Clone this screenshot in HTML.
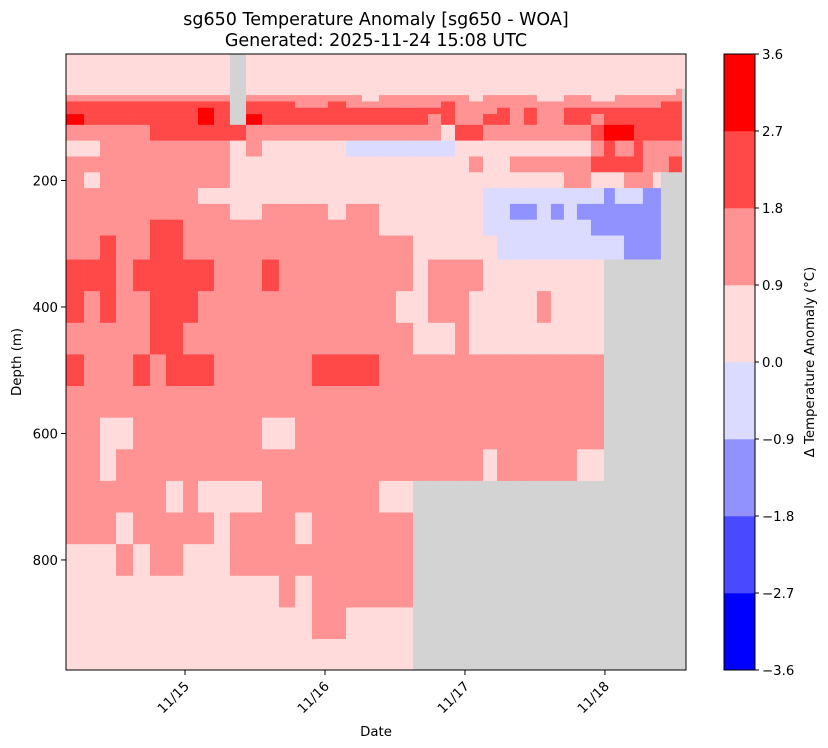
<!DOCTYPE html>
<html><head><meta charset="utf-8"><style>
html,body{margin:0;padding:0;background:#fff;}
svg{display:block;font-family:"DejaVu Sans","Liberation Sans",sans-serif;}
</style></head><body>
<svg id="chart" width="828" height="748" viewBox="0 0 828 748" xmlns="http://www.w3.org/2000/svg">
<text x="376" y="25" text-anchor="middle" font-size="17.5">sg650 Temperature Anomaly [sg650 - WOA]</text>
<text x="376" y="46" text-anchor="middle" font-size="17.5">Generated: 2025-11-24 15:08 UTC</text>
<g id="cells"></g>
<rect x="66" y="54" width="620" height="616" fill="none" stroke="#000" stroke-width="1"/>
<g id="axes"></g>
<text x="376" y="736" text-anchor="middle" font-size="13.3">Date</text>
<text x="21" y="362" text-anchor="middle" font-size="13.3" transform="rotate(-90 21 362)">Depth (m)</text>
<g id="cbar"></g>
<text x="814" y="362" text-anchor="middle" font-size="13.3" transform="rotate(-90 814 362)">Δ Temperature Anomaly (°C)</text>
</svg>
<script>
// Column edges: days since 11/15 00:00
const colEdges = [-0.850,-0.721,-0.607,-0.493,-0.371,-0.250,-0.136,-0.014,0.093,0.207,0.321,0.436,0.550,0.671,0.786,0.907,1.021,1.150,1.264,1.386,1.507,1.629,1.736,1.829,1.929,2.029,2.129,2.229,2.321,2.421,2.514,2.614,2.707,2.800,2.900,2.993,3.071,3.136,3.207,3.271,3.343,3.400,3.457,3.507,3.550,3.579];
// Depth bin edges (m)
const depthEdges = [0,55,65,75,85,95,112,137,162,187,212,237,262,287,325,375,425,475,525,575,625,675,725,775,825,875,925,975];
// Anomaly level per depth row, run-length coded "level:count" (0..7 = bins of 0.9 from -3.6, '.' = no data)
const rows = [
"4:10 .:1 4:34",
"4:10 .:1 4:32 5:1 .:1",
"5:10 .:1 5:7 4:1 5:6 4:1 5:4 4:2 5:2 4:2 5:8 .:1",
"6:10 .:1 6:3 5:2 6:1 5:6 6:1 5:17 6:3 .:1",
"6:8 7:1 6:1 .:1 6:13 5:3 6:1 5:1 6:1 5:2 6:12 .:1",
"7:1 6:7 7:1 6:1 .:1 7:1 6:10 5:1 6:1 5:2 6:2 5:1 6:1 5:2 6:2 5:1 6:9 .:1",
"5:5 6:6 5:12 4:1 6:2 5:8 6:1 7:3 6:6 .:1",
"4:2 5:8 4:1 5:1 4:5 3:7 4:10 5:1 6:1 5:2 6:1 5:5 .:1",
"5:10 4:15 5:1 4:2 5:6 6:5 5:3 6:2 .:1",
"5:1 4:1 5:8 4:22 5:2 4:3 5:3 4:1 .:4",
"5:8 4:18 3:9 2:1 3:3 2:2 .:4",
"5:10 4:2 5:4 4:1 5:2 4:7 3:2 2:2 3:1 2:1 3:1 2:8 .:4",
"5:5 6:2 5:12 4:7 3:8 2:7 .:4",
"5:2 6:1 5:2 6:2 5:14 4:6 3:10 2:4 .:4",
"6:3 5:1 6:5 5:3 6:1 5:8 4:1 5:4 4:9 .:10",
"6:1 5:1 6:1 5:2 6:3 5:12 4:2 5:3 4:5 5:1 4:4 .:10",
"5:5 6:2 5:14 4:3 5:1 4:10 .:10",
"6:1 5:3 6:1 5:1 6:3 5:6 6:4 5:16 .:10",
"5:35 .:10",
"5:2 4:2 5:8 4:2 5:21 .:10",
"5:2 4:1 5:23 4:1 5:6 4:2 .:10",
"5:6 4:1 5:1 4:4 5:7 4:2 .:24",
"5:3 4:1 5:5 4:1 5:4 4:1 5:6 .:24",
"4:3 5:1 4:1 5:2 4:3 5:11 .:24",
"4:13 5:1 4:1 5:6 .:24",
"4:15 5:2 4:4 .:24",
"4:21 .:24"
];
const levelColors = ["#0000ff","#4949ff","#9292ff","#dbdbff","#ffdbdb","#ff9292","#ff4949","#ff0000"];
const cbarTicks = ["3.6","2.7","1.8","0.9","0.0","\u22120.9","\u22121.8","\u22122.7","\u22123.6"];
const xTickVals = [0,1,2,3];
const xTickLabels = ["11/15","11/16","11/17","11/18"];
const yTickVals = [200,400,600,800];
</script>
<script>
const NS="http://www.w3.org/2000/svg";
const X0=66,X1=686,Y0=54,Y1=670;
const tMin=colEdges[0], tMax=colEdges[colEdges.length-1];
const xs=t=>X0+(t-tMin)/(tMax-tMin)*(X1-X0);
const ys=d=>Y0+d/974*(Y1-Y0);
function mk(tag,attrs){const e=document.createElementNS(NS,tag);for(const k in attrs)e.setAttribute(k,attrs[k]);return e;}
const nC=colEdges.length-1;
function decode(rle){
  const out=[];
  rle.trim().split(/\s+/).forEach(tok=>{
    const [lv,cnt]=tok.split(":");
    for(let i=0;i<+cnt;i++) out.push(lv==="." ? NaN : -3.6+0.9*(+lv)+0.45);
  });
  while(out.length<nC) out.push(NaN);
  return out.slice(0,nC);
}
const g=document.getElementById('cells');
rows.forEach((rle,ri)=>{
  const vals=decode(rle);
  for(let ci=0;ci<nC;ci++){
    const val=vals[ci];
    let fill;
    if(isNaN(val)) fill="#d3d3d3";
    else {let lv=Math.floor((val+3.6)/0.9);lv=Math.max(0,Math.min(7,lv));fill=levelColors[lv];}
    const xa=xs(colEdges[ci]),xb=xs(colEdges[ci+1]);
    const ya=ys(depthEdges[ri]),yb=ys(Math.min(depthEdges[ri+1],974));
    const r=mk('rect',{x:xa.toFixed(2),y:ya.toFixed(2),width:(xb-xa+0.3).toFixed(2),height:(yb-ya+0.3).toFixed(2),fill:fill});
    
    
    g.appendChild(r);
  }
});
const ax=document.getElementById('axes');
xTickVals.forEach((t,i)=>{
  const x=xs(t);
  const l=mk('line',{x1:x,y1:Y1,x2:x,y2:Y1+5,stroke:"#000"});
  
  
  ax.appendChild(l);
  const tx=mk('text',{x:x+5,y:Y1+17,"text-anchor":"end","font-size":"13.3",transform:`rotate(-45 ${x+5} ${Y1+17})`});
  tx.textContent=xTickLabels[i];
  
  
  ax.appendChild(tx);
});
yTickVals.forEach(d=>{
  const y=ys(d);
  const l=mk('line',{x1:X0-5,y1:y,x2:X0,y2:y,stroke:"#000"});
  
  
  ax.appendChild(l);
  const tx=mk('text',{x:X0-8,y:y+5,"text-anchor":"end","font-size":"13.3"});
  tx.textContent=String(d);
  
  
  ax.appendChild(tx);
});
const cb=document.getElementById('cbar');
const CX=724,CW=31,CY0=54,CY1=670,step=(CY1-CY0)/8;
for(let i=0;i<8;i++){
  const r=mk('rect',{x:CX,y:(CY0+step*(7-i)).toFixed(2),width:CW,height:(step+0.3).toFixed(2),fill:levelColors[i]});
  
  
  cb.appendChild(r);
}
const fr=mk('rect',{x:CX,y:CY0,width:CW,height:CY1-CY0,fill:"none",stroke:"#000"});


cb.appendChild(fr);
cbarTicks.forEach((lab,i)=>{
  const y=CY0+step*i;
  const l=mk('line',{x1:CX+CW,y1:y,x2:CX+CW+4,y2:y,stroke:"#000"});
  
  
  cb.appendChild(l);
  const tx=mk('text',{x:CX+CW+7,y:y+5,"font-size":"13.3"});
  tx.textContent=lab;
  
  
  cb.appendChild(tx);
});
</script>
</body></html>
